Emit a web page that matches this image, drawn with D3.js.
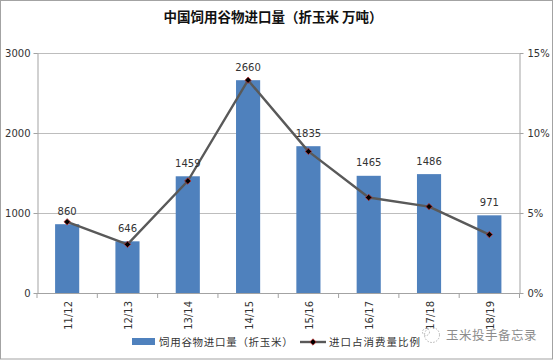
<!DOCTYPE html>
<html>
<head>
<meta charset="utf-8">
<script src="https://cdn.jsdelivr.net/npm/d3@7"></script>
<style>
html, body { margin: 0; padding: 0; background: #fff; }
svg { display: block; }
text { font-family: "DejaVu Sans", sans-serif; fill: #333; }
.cjk { font-family: "Noto Sans CJK SC", sans-serif; }
</style>
</head>
<body>
<div id="chart"></div>
<script>
const seasons = ['11/12', '12/13', '13/14', '14/15', '15/16', '16/17', '17/18', '18/19'];
const imports = [860, 646, 1459, 2660, 1835, 1465, 1486, 971];
const shares = [0.0445, 0.0304, 0.07, 0.133, 0.0885, 0.0597, 0.054, 0.0365];
const leftTicks = [0, 1000, 2000, 3000];
const rightTicks = [0, 0.05, 0.1, 0.15];

const width = 554, height = 360;
const plot = { left: 37, right: 519.5, top: 53, bottom: 293 };
const frameColor = '#a3a3a3';

const svg = d3.select('#chart').append('svg').attr('width', width).attr('height', height);

// outer frame of the pasted chart
svg.append('rect')
    .attr('x', 0.5).attr('y', 0.5)
    .attr('width', 552).attr('height', 358.5)
    .attr('fill', '#fff').attr('stroke', frameColor);

const x = d3.scaleBand().domain(seasons).range([plot.left, plot.right]).paddingInner(0.6).paddingOuter(0.3);
const yLeft = d3.scaleLinear().domain([0, 3000]).range([plot.bottom, plot.top]);
const yRight = d3.scaleLinear().domain([0, 0.15]).range([plot.bottom, plot.top]);

// gridlines
svg.append('g').selectAll('line')
    .data(leftTicks.filter(d => d > 0))
    .join('line')
    .attr('x1', plot.left).attr('x2', plot.right)
    .attr('y1', d => yLeft(d) + 0.5).attr('y2', d => yLeft(d) + 0.5)
    .attr('stroke', '#bdbdbd').attr('stroke-width', 1.2);

// bars
svg.append('g').selectAll('rect')
    .data(seasons)
    .join('rect')
    .attr('x', d => x(d))
    .attr('width', x.bandwidth())
    .attr('y', (d, i) => yLeft(imports[i]))
    .attr('height', (d, i) => plot.bottom - yLeft(imports[i]))
    .attr('fill', '#4f81bd');

// axes
function styleAxis(g) {
    g.selectAll('path, line').attr('stroke', frameColor);
    g.selectAll('text').attr('fill', '#333').attr('font-size', 10)
        .attr('font-family', '"DejaVu Sans", sans-serif');
}

svg.append('g')
    .attr('transform', `translate(${plot.left + 0.5},0)`)
    .call(d3.axisLeft(yLeft).tickValues(leftTicks).tickFormat(d3.format('d')).tickSize(4).tickSizeOuter(0).tickPadding(3))
    .call(styleAxis);

svg.append('g')
    .attr('transform', `translate(${plot.right},0)`)
    .call(d3.axisRight(yRight).tickValues(rightTicks).tickFormat(d3.format('.0%')).tickSize(4).tickSizeOuter(0).tickPadding(4))
    .call(styleAxis);

// x axis: ticks sit on the band edges, labels are rotated
const bandEdge = d3.range(seasons.length + 1).map(i => plot.left + i * x.step());
const xAxisG = svg.append('g');
xAxisG.append('line')
    .attr('x1', plot.left).attr('x2', plot.right)
    .attr('y1', plot.bottom + 0.5).attr('y2', plot.bottom + 0.5)
    .attr('stroke', frameColor);
xAxisG.selectAll('.edge')
    .data(bandEdge)
    .join('line')
    .attr('class', 'edge')
    .attr('x1', d => d).attr('x2', d => d)
    .attr('y1', plot.bottom).attr('y2', plot.bottom + 5)
    .attr('stroke', frameColor);
xAxisG.selectAll('text')
    .data(seasons)
    .join('text')
    .attr('transform', d => `translate(${x(d) + x.bandwidth() / 2 + 1},${plot.bottom + 8}) rotate(-90)`)
    .attr('text-anchor', 'end')
    .attr('dy', '0.35em')
    .attr('font-size', 10)
    .text(d => d);

// share line
const line = d3.line()
    .x((d, i) => x(seasons[i]) + x.bandwidth() / 2)
    .y(d => yRight(d));

svg.append('path')
    .datum(shares)
    .attr('d', line)
    .attr('fill', 'none')
    .attr('stroke', '#595959')
    .attr('stroke-width', 2.4)
    .attr('stroke-linejoin', 'round');

// excel style marker: a square turned on its corner
const diamond = d3.symbol().type(d3.symbolSquare).size(20);
svg.append('g').selectAll('path')
    .data(shares)
    .join('path')
    .attr('d', diamond)
    .attr('transform', (d, i) => `translate(${x(seasons[i]) + x.bandwidth() / 2},${yRight(d)}) rotate(45)`)
    .attr('fill', '#000')
    .attr('stroke', '#b03030')
    .attr('stroke-width', 0.8);

// bar value labels
svg.append('g').selectAll('text')
    .data(imports)
    .join('text')
    .attr('x', (d, i) => x(seasons[i]) + x.bandwidth() / 2)
    .attr('y', d => yLeft(d) - 13)
    .attr('dy', '0.35em')
    .attr('text-anchor', 'middle')
    .attr('font-size', 10)
    .text(d => d);

// title
svg.append('text')
    .attr('class', 'cjk')
    .attr('x', 273).attr('y', 22)
    .attr('text-anchor', 'middle')
    .attr('font-size', 13.5)
    .attr('font-weight', 700)
    .style('fill', '#111')
    .text('中国饲用谷物进口量（折玉米 万吨）');

// legend
svg.append('rect')
    .attr('x', 132).attr('y', 338)
    .attr('width', 23).attr('height', 7)
    .attr('fill', '#4f81bd');
svg.append('text')
    .attr('class', 'cjk')
    .attr('x', 159).attr('y', 346)
    .attr('font-size', 10.5)
    .attr('letter-spacing', 0.7)
    .text('饲用谷物进口量（折玉米）');
svg.append('line')
    .attr('x1', 300).attr('x2', 326)
    .attr('y1', 342).attr('y2', 342)
    .attr('stroke', '#595959').attr('stroke-width', 2.4);
svg.append('path')
    .attr('d', diamond)
    .attr('transform', 'translate(313,342) rotate(45)')
    .attr('fill', '#000').attr('stroke', '#b03030').attr('stroke-width', 0.8);
svg.append('text')
    .attr('class', 'cjk')
    .attr('x', 329).attr('y', 346)
    .attr('font-size', 10.5)
    .attr('letter-spacing', 1)
    .text('进口占消费量比例');

// watermark
const mark = svg.append('g').attr('opacity', 0.75);
mark.append('circle')
    .attr('cx', 432).attr('cy', 335).attr('r', 7.5)
    .attr('fill', 'none').attr('stroke', '#999').attr('stroke-dasharray', '1.5 1.5');
mark.append('circle')
    .attr('cx', 426).attr('cy', 332).attr('r', 3.5)
    .attr('fill', 'none').attr('stroke', '#999').attr('stroke-dasharray', '1.5 1.5');
mark.append('text')
    .attr('class', 'cjk')
    .attr('x', 446).attr('y', 340)
    .attr('font-size', 12.5)
    .attr('letter-spacing', 0.5)
    .style('fill', '#666')
    .text('玉米投手备忘录');
</script>
</body>
</html>
